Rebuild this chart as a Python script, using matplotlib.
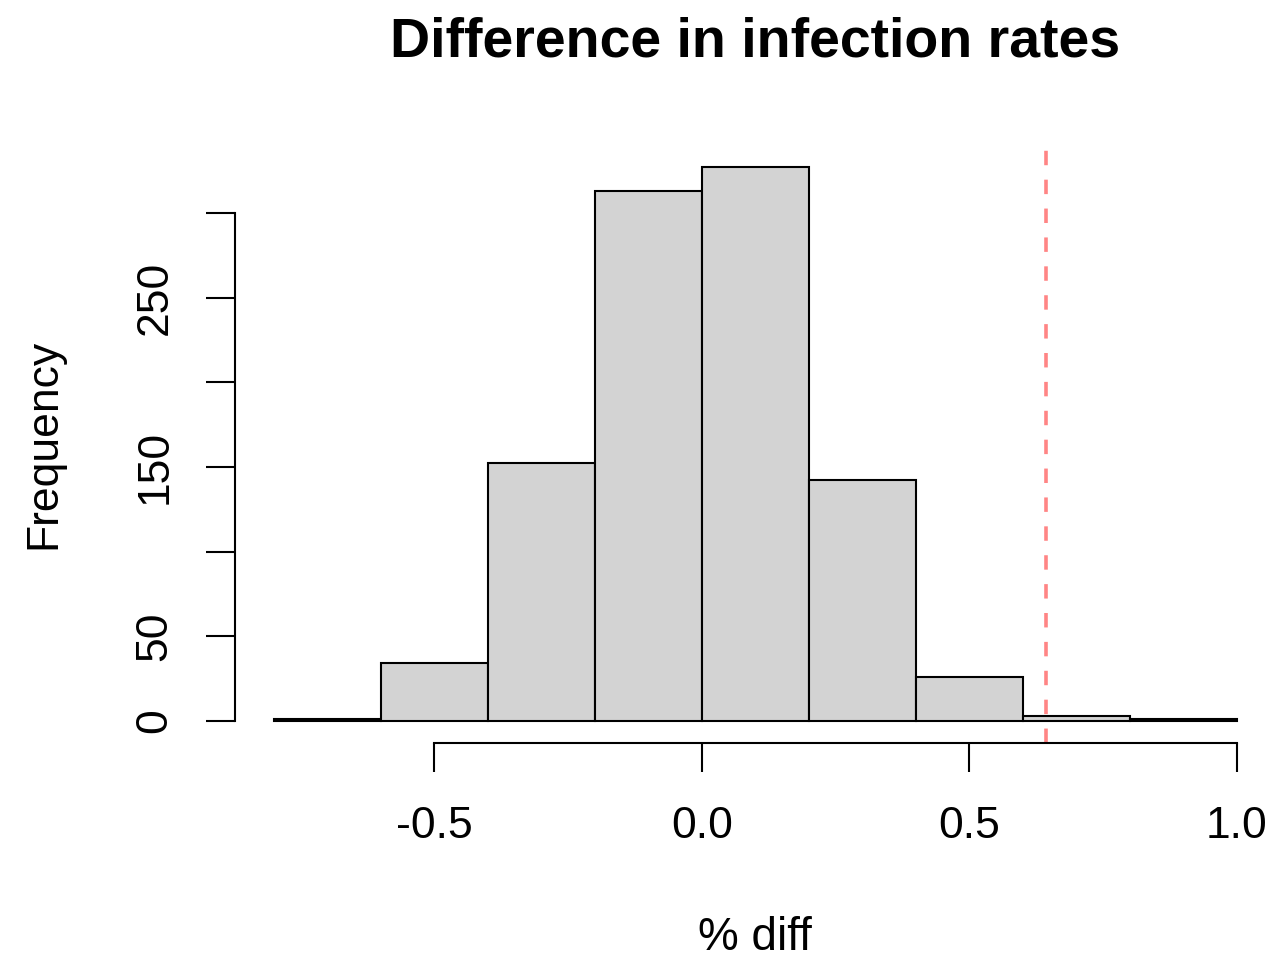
import numpy as np
import matplotlib
matplotlib.use('Agg')
import matplotlib.pyplot as plt

plt.rcParams['font.family'] = ['Liberation Sans', 'DejaVu Sans']

# histogram bins and counts
bin_edges = [-0.8, -0.6, -0.4, -0.2, 0.0, 0.2, 0.4, 0.6, 0.8, 1.0]
counts = [1, 34, 152, 313, 327, 142, 26, 3, 1]
observed_diff = 0.643

x_ticks = [-0.5, 0.0, 0.5, 1.0]
x_tick_labels = ['-0.5', '0.0', '0.5', '1.0']
y_ticks = [0, 50, 100, 150, 200, 250, 300]
y_tick_labels = ['0', '50', '', '150', '', '250', '']

W, H = 1273, 959
fig = plt.figure(figsize=(W / 100, H / 100), dpi=100)
# plot region in pixels, R style (4% padding on the data range)
left, right, top, bottom = 235, 1275.5, 145, 743
ax = fig.add_axes([left / W, 1 - bottom / H, (right - left) / W, (bottom - top) / H])

widths = np.diff(bin_edges)
ax.bar(bin_edges[:-1], counts, width=widths, align='edge',
       color='#D3D3D3', edgecolor='black', linewidth=1.5)
ax.axvline(observed_diff, color='#FF8585', linewidth=2.6, dashes=(4, 4))

ax.set_xlim(-0.872, 1.072)
ax.set_ylim(-13.08, 340.08)

for s in ['top', 'right']:
    ax.spines[s].set_visible(False)
ax.spines['left'].set_bounds(0, 300)
ax.spines['bottom'].set_bounds(-0.5, 1.0)
ax.spines['left'].set_linewidth(1.5)
ax.spines['bottom'].set_linewidth(1.5)

ax.set_xticks(x_ticks)
ax.set_xticklabels(x_tick_labels)
ax.set_yticks(y_ticks)
ax.set_yticklabels(y_tick_labels, rotation=90, va='center')
ax.tick_params(axis='both', length=21, width=1.5, labelsize=32)
ax.tick_params(axis='x', pad=24)
ax.tick_params(axis='y', pad=22)

ax.set_title('Difference in infection rates', fontsize=40, fontweight='bold', pad=64)
ax.set_xlabel('% diff', fontsize=33, labelpad=50)
ax.set_ylabel('Frequency', fontsize=32, labelpad=50)

fig.savefig('out.png', dpi=100)
